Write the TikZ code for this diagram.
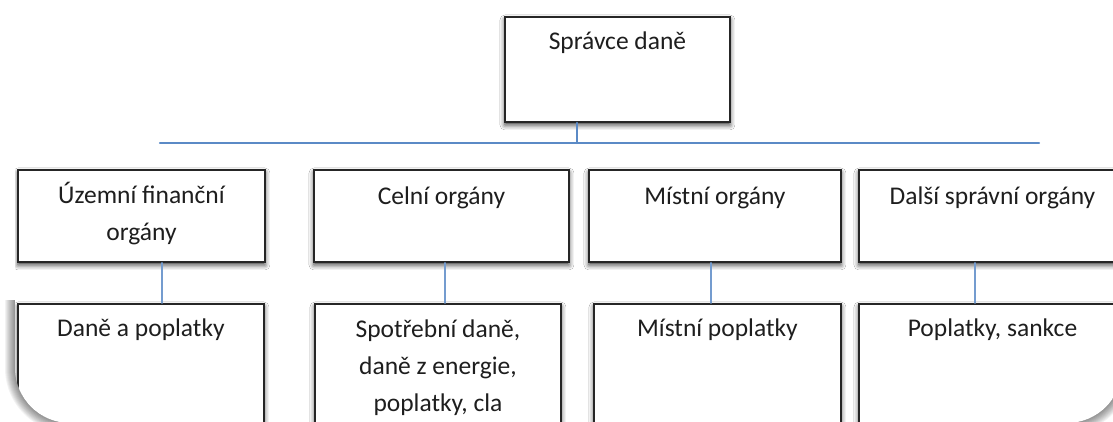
\documentclass[tikz,border=0pt]{standalone}
\usepackage{fontspec}
\setmainfont{Carlito}
\usetikzlibrary{shadows.blur}

\definecolor{boxline}{HTML}{262626}
\definecolor{busblue}{HTML}{5B8AC6}
\definecolor{textgray}{HTML}{1E1E1E}

\tikzset{
    orgbox/.style 2 args={draw=boxline, line width=1.9pt, fill=white,
        anchor=north west, inner sep=0pt, minimum width=#1, minimum height=#2,
        blur shadow={shadow xshift=0pt, shadow yshift=-3pt,
            shadow blur radius=5pt, shadow opacity=80}},
    orgtext/.style={anchor=base, align=center, text=textgray,
        font=\fontsize{25.5}{37}\selectfont},
    bus/.style={draw=busblue, line width=2.4pt},
    stem/.style={draw=busblue!85, line width=1.6pt},
}

\begin{document}
\begin{tikzpicture}[x=1pt,y=-1pt,line cap=round]
        \useasboundingbox (0,0) rectangle (1113,421);

        % card with rounded lower corners
        \begin{scope}
            \clip (0,300) rectangle (1113,421);
            \foreach \r in {1,...,10}{
                \fill[black, opacity=0.05, rounded corners={55+\r}] (15-\r,-100) rectangle (1122+\r,423+\r);
            }
        \end{scope}
        \fill[white, rounded corners=55] (15,-100) rectangle (1122,423);
        \clip[rounded corners=55] (15,-100) rectangle (1122,423);

        % top
        \node[orgbox={225pt}{105pt}] (top) at (504,16) {};
        \node[orgtext] (ttop) at ([yshift=-33pt]top.north) {Správce daně};

        \coordinate (busL) at (160,143);
        \coordinate (busR) at (1039,143);
        \coordinate (busT) at (577,143);
        \draw[bus] (busL) -- (busR);
        \draw[bus] (top.south -| busT) -- (busT);

        % first row
        \node[orgbox={247pt}{92pt}] (r1a) at (17,169) {};
        \node[orgbox={255pt}{92pt}] (r1b) at (313,169) {};
        \node[orgbox={252pt}{92pt}] (r1c) at (588,169) {};
        \node[orgbox={267pt}{92pt}] (r1d) at (858,169) {};

        % base of a text block = baseline of its last line
        \node[orgtext] (t1a) at ([yshift=-71pt]r1a.north) {Územní finanční\\orgány};
        \node[orgtext] (t1b) at ([yshift=-35pt]r1b.north) {Celní orgány};
        \node[orgtext] (t1c) at ([yshift=-35pt]r1c.north) {Místní orgány};
        \node[orgtext] (t1d) at ([yshift=-35pt]r1d.north) {Další správní orgány};

        % second row
        \node[orgbox={246pt}{160pt}] (r2a) at (17,303) {};
        \node[orgbox={246pt}{160pt}] (r2b) at (314,303) {};
        \node[orgbox={247pt}{160pt}] (r2c) at (593,303) {};
        \node[orgbox={267pt}{160pt}] (r2d) at (858,303) {};

        \node[orgtext] (t2a) at ([yshift=-33pt]r2a.north) {Daně a poplatky};
        \node[orgtext] (t2b) at ([yshift=-108pt]r2b.north) {Spotřební daně,\\daně z energie,\\poplatky, cla};
        \node[orgtext] (t2c) at ([yshift=-33pt]r2c.north) {Místní poplatky};
        \node[orgtext] (t2d) at ([yshift=-33pt]r2d.north) {Poplatky, sankce};

        \foreach \a/\x in {a/162,b/445,c/711,d/975}{
            \coordinate (s\a) at (\x,0);
            \draw[stem] (r1\a.south -| s\a) -- (r2\a.north -| s\a);
        }
    \end{tikzpicture}
\end{document}
